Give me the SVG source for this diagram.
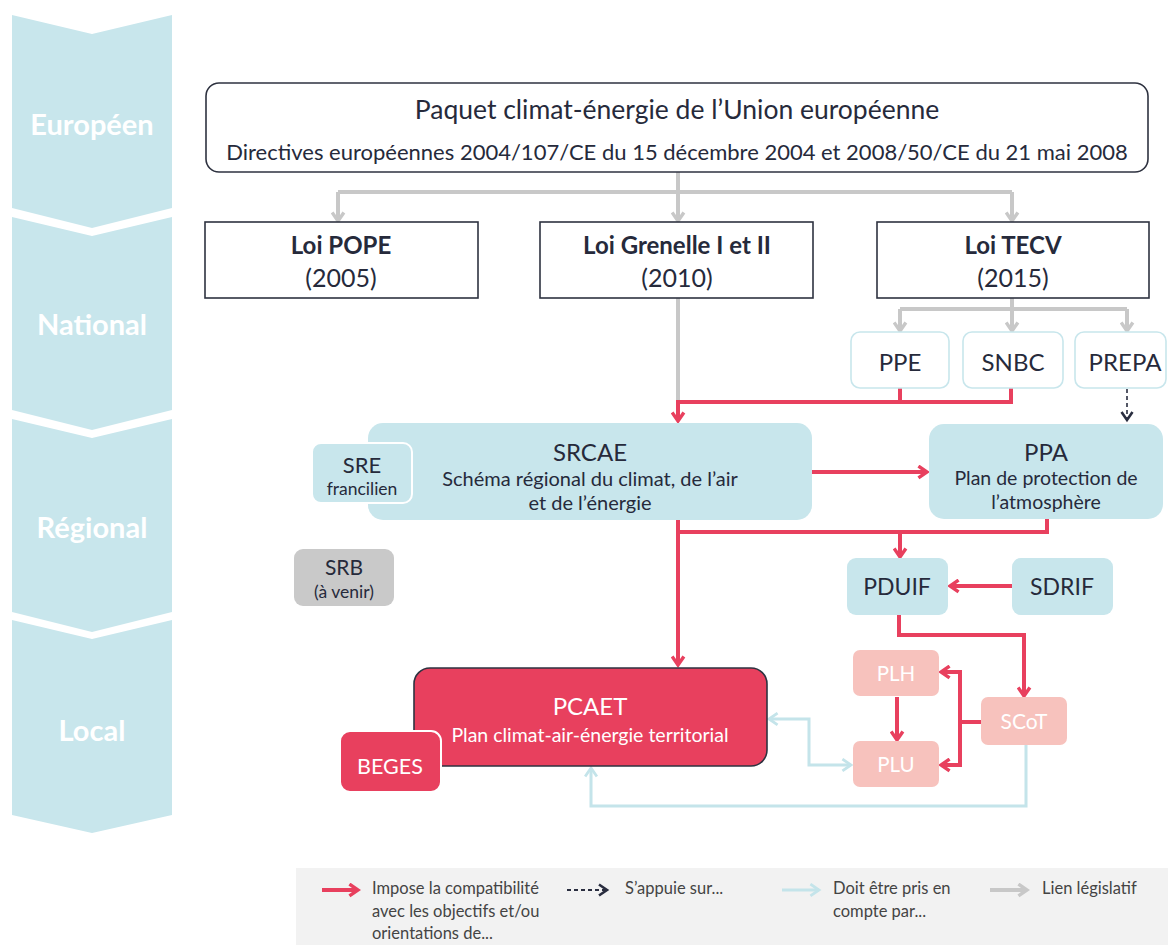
<svg xmlns="http://www.w3.org/2000/svg" width="1168" height="945" viewBox="0 0 1168 945">
<style>
text{font-family:Lato,"Open Sans","Liberation Sans",sans-serif;fill:#262a3b;text-anchor:middle}
.band{fill:#c8e6ec}
.bandt{fill:#fff;font-weight:bold;font-size:29px}
.frame{fill:#fff;stroke:#2e3240;stroke-width:1.6}
.lb{fill:#c8e6ec}
.wt{fill:#fff}
.red{fill:none;stroke:#e8405e;stroke-width:4}
.gray{fill:none;stroke:#c8c8c8;stroke-width:4}
.cyan{fill:none;stroke:#c4e4ea;stroke-width:3}
.dash{fill:none;stroke:#2a2e40;stroke-width:1.6;stroke-dasharray:4 3}
.leg{font-size:16.5px;text-anchor:start;fill:#444}
</style>
<defs>
<marker id="mr" viewBox="0 0 14 14" refX="11" refY="7" markerWidth="15" markerHeight="15" markerUnits="userSpaceOnUse" orient="auto"><path d="M3,1.5 L11,7 L3,12.5" fill="none" stroke="#e8405e" stroke-width="3.2"/></marker>
<marker id="mg" viewBox="0 0 14 14" refX="11" refY="7" markerWidth="15" markerHeight="15" markerUnits="userSpaceOnUse" orient="auto"><path d="M3,1.5 L11,7 L3,12.5" fill="none" stroke="#c8c8c8" stroke-width="3.2"/></marker>
<marker id="mc" viewBox="0 0 14 14" refX="11" refY="7" markerWidth="15" markerHeight="15" markerUnits="userSpaceOnUse" orient="auto-start-reverse"><path d="M3,1.5 L11,7 L3,12.5" fill="none" stroke="#c4e4ea" stroke-width="2.6"/></marker>
<marker id="md" viewBox="0 0 14 14" refX="11" refY="7" markerWidth="14" markerHeight="14" markerUnits="userSpaceOnUse" orient="auto"><path d="M3,1.5 L11,7 L3,12.5" fill="none" stroke="#2a2e40" stroke-width="2.6"/></marker>
</defs>

<g id="bands">
<polygon class="band" points="12,15 92,34 172,15 172,208 92,228 12,208"/>
<polygon class="band" points="12,217 92,236 172,217 172,410 92,430 12,410"/>
<polygon class="band" points="12,419 92,438 172,419 172,612 92,632 12,612"/>
<polygon class="band" points="12,620 92,639 172,620 172,815 92,833 12,815"/>
<text class="bandt" x="92" y="135">Européen</text>
<text class="bandt" x="92" y="335">National</text>
<text class="bandt" x="92" y="538">Régional</text>
<text class="bandt" x="92" y="741">Local</text>
</g>

<g id="connectors">
<path class="gray" d="M678,172 V192"/>
<path class="gray" d="M338,192 H1012"/>
<path class="gray" d="M338,192 V221" marker-end="url(#mg)"/>
<path class="gray" d="M678,192 V221" marker-end="url(#mg)"/>
<path class="gray" d="M1012,192 V221" marker-end="url(#mg)"/>
<path class="gray" d="M1012,298 V309"/>
<path class="gray" d="M900,309 H1127"/>
<path class="gray" d="M900,309 V331" marker-end="url(#mg)"/>
<path class="gray" d="M1012,309 V331" marker-end="url(#mg)"/>
<path class="gray" d="M1127,309 V331" marker-end="url(#mg)"/>
<path class="gray" d="M678,298 V402"/>
<path class="red" d="M900,388 V402 M1011,388 V402 H678"/>
<path class="red" d="M678,400 V421" marker-end="url(#mr)"/>
<path class="dash" d="M1127,389 V420" marker-end="url(#md)"/>
<path class="red" d="M812,472 H927" marker-end="url(#mr)"/>
<path class="red" d="M1047,519 V532 H678"/>
<path class="red" d="M678,520 V665" marker-end="url(#mr)"/>
<path class="red" d="M900,532 V557" marker-end="url(#mr)"/>
<path class="red" d="M1012,586 H950" marker-end="url(#mr)"/>
<path class="red" d="M899,615 V635 H1024 V696" marker-end="url(#mr)"/>
<path class="red" d="M897,697 V740" marker-end="url(#mr)"/>
<path class="red" d="M981,722 H960"/>
<path class="red" d="M960,672 V765"/>
<path class="red" d="M962,672 H941" marker-end="url(#mr)"/>
<path class="red" d="M962,765 H941" marker-end="url(#mr)"/>
<path class="cyan" d="M769,719 H809 V765 H851" marker-start="url(#mc)" marker-end="url(#mc)"/>
<path class="cyan" d="M1026,745 V806 H591 V768" marker-end="url(#mc)"/>
</g>

<g id="n-paquet">
<rect class="frame" x="206" y="83" width="942" height="89" rx="13"/>
<text x="677" y="119" font-size="26.5">Paquet climat-énergie de l’Union européenne</text>
<text x="677" y="160" font-size="22">Directives européennes 2004/107/CE du 15 décembre 2004 et 2008/50/CE du 21 mai 2008</text>
</g>

<g id="n-pope">
<rect class="frame" x="205" y="222" width="273" height="76"/>
<text x="341" y="254" font-size="24" font-weight="bold">Loi POPE</text>
<text x="341" y="287" font-size="25">(2005)</text>
</g>
<g id="n-grenelle">
<rect class="frame" x="540" y="222" width="273" height="76"/>
<text x="677" y="254" font-size="24" font-weight="bold">Loi Grenelle I et II</text>
<text x="677" y="287" font-size="25">(2010)</text>
</g>
<g id="n-tecv">
<rect class="frame" x="877" y="222" width="272" height="76"/>
<text x="1013" y="254" font-size="24" font-weight="bold">Loi TECV</text>
<text x="1013" y="287" font-size="25">(2015)</text>
</g>

<g id="n-ppe">
<rect x="851" y="332" width="98" height="56" rx="9" fill="#fff" stroke="#c8e6ec" stroke-width="1.6"/>
<text x="900" y="371" font-size="24">PPE</text>
</g>
<g id="n-snbc">
<rect x="963" y="332" width="100" height="56" rx="9" fill="#fff" stroke="#c8e6ec" stroke-width="1.6"/>
<text x="1013" y="371" font-size="24">SNBC</text>
</g>
<g id="n-prepa">
<rect x="1075" y="332" width="91" height="56" rx="9" fill="#fff" stroke="#c8e6ec" stroke-width="1.6"/>
<text x="1125" y="371" font-size="24">PREPA</text>
</g>

<g id="n-srcae">
<rect class="lb" x="368" y="423" width="444" height="97" rx="15"/>
<text x="590" y="461" font-size="24">SRCAE</text>
<text x="590" y="486" font-size="20">Schéma régional du climat, de l’air</text>
<text x="590" y="510" font-size="20">et de l’énergie</text>
</g>
<g id="n-sre">
<rect x="312" y="443" width="100" height="60" rx="9" fill="#c8e6ec" stroke="#fff" stroke-width="2"/>
<text x="362" y="473" font-size="22">SRE</text>
<text x="362" y="495" font-size="17.5">francilien</text>
</g>
<g id="n-ppa">
<rect class="lb" x="929" y="424" width="234" height="95" rx="15"/>
<text x="1046" y="461" font-size="24">PPA</text>
<text x="1046" y="485" font-size="19.5">Plan de protection de</text>
<text x="1046" y="509" font-size="19.5">l’atmosphère</text>
</g>
<g id="n-srb">
<rect x="294" y="549" width="100" height="57" rx="9" fill="#c9c9c9"/>
<text x="344" y="575" font-size="21">SRB</text>
<text x="344" y="598" font-size="17.5">(à venir)</text>
</g>
<g id="n-pduif">
<rect class="lb" x="847" y="558" width="101" height="57" rx="9"/>
<text x="897" y="595" font-size="23">PDUIF</text>
</g>
<g id="n-sdrif">
<rect class="lb" x="1012" y="558" width="101" height="57" rx="9"/>
<text x="1062" y="595" font-size="23">SDRIF</text>
</g>

<g id="n-pcaet">
<rect x="414" y="668" width="353" height="98" rx="16" fill="#e8405e" stroke="#2e3240" stroke-width="1.6"/>
<text class="wt" x="590" y="715" font-size="24">PCAET</text>
<text class="wt" x="590" y="742" font-size="19.5">Plan climat-air-énergie territorial</text>
</g>
<g id="n-beges">
<rect x="340" y="731" width="101" height="61" rx="10" fill="#e8405e" stroke="#fff" stroke-width="2"/>
<text class="wt" x="390" y="774" font-size="21.5">BEGES</text>
</g>
<g id="n-plh">
<rect x="853" y="650" width="86" height="46" rx="7" fill="#f7c2bd"/>
<text class="wt" x="896" y="681" font-size="20.5">PLH</text>
</g>
<g id="n-plu">
<rect x="853" y="741" width="86" height="46" rx="7" fill="#f7c2bd"/>
<text class="wt" x="896" y="772" font-size="20.5">PLU</text>
</g>
<g id="n-scot">
<rect x="981" y="697" width="86" height="48" rx="7" fill="#f7c2bd"/>
<text class="wt" x="1024" y="729" font-size="21">SCoT</text>
</g>

<g id="legend">
<rect x="296" y="868" width="872" height="77" fill="#f2f2f2"/>
<path class="red" d="M322,890 H358" marker-end="url(#mr)"/>
<text class="leg" x="372" y="894">Impose la compatibilité</text>
<text class="leg" x="372" y="917">avec les objectifs et/ou</text>
<text class="leg" x="372" y="939">orientations de...</text>
<path d="M567,890 H607" fill="none" stroke="#2a2e40" stroke-width="2" stroke-dasharray="4 3" marker-end="url(#md)"/>
<text class="leg" x="625" y="894">S’appuie sur...</text>
<path class="cyan" d="M782,890 H819" marker-end="url(#mc)"/>
<text class="leg" x="833" y="894">Doit être pris en</text>
<text class="leg" x="833" y="917">compte par...</text>
<path class="gray" d="M990,890 H1027" marker-end="url(#mg)"/>
<text class="leg" x="1042" y="894">Lien législatif</text>
</g>
</svg>
